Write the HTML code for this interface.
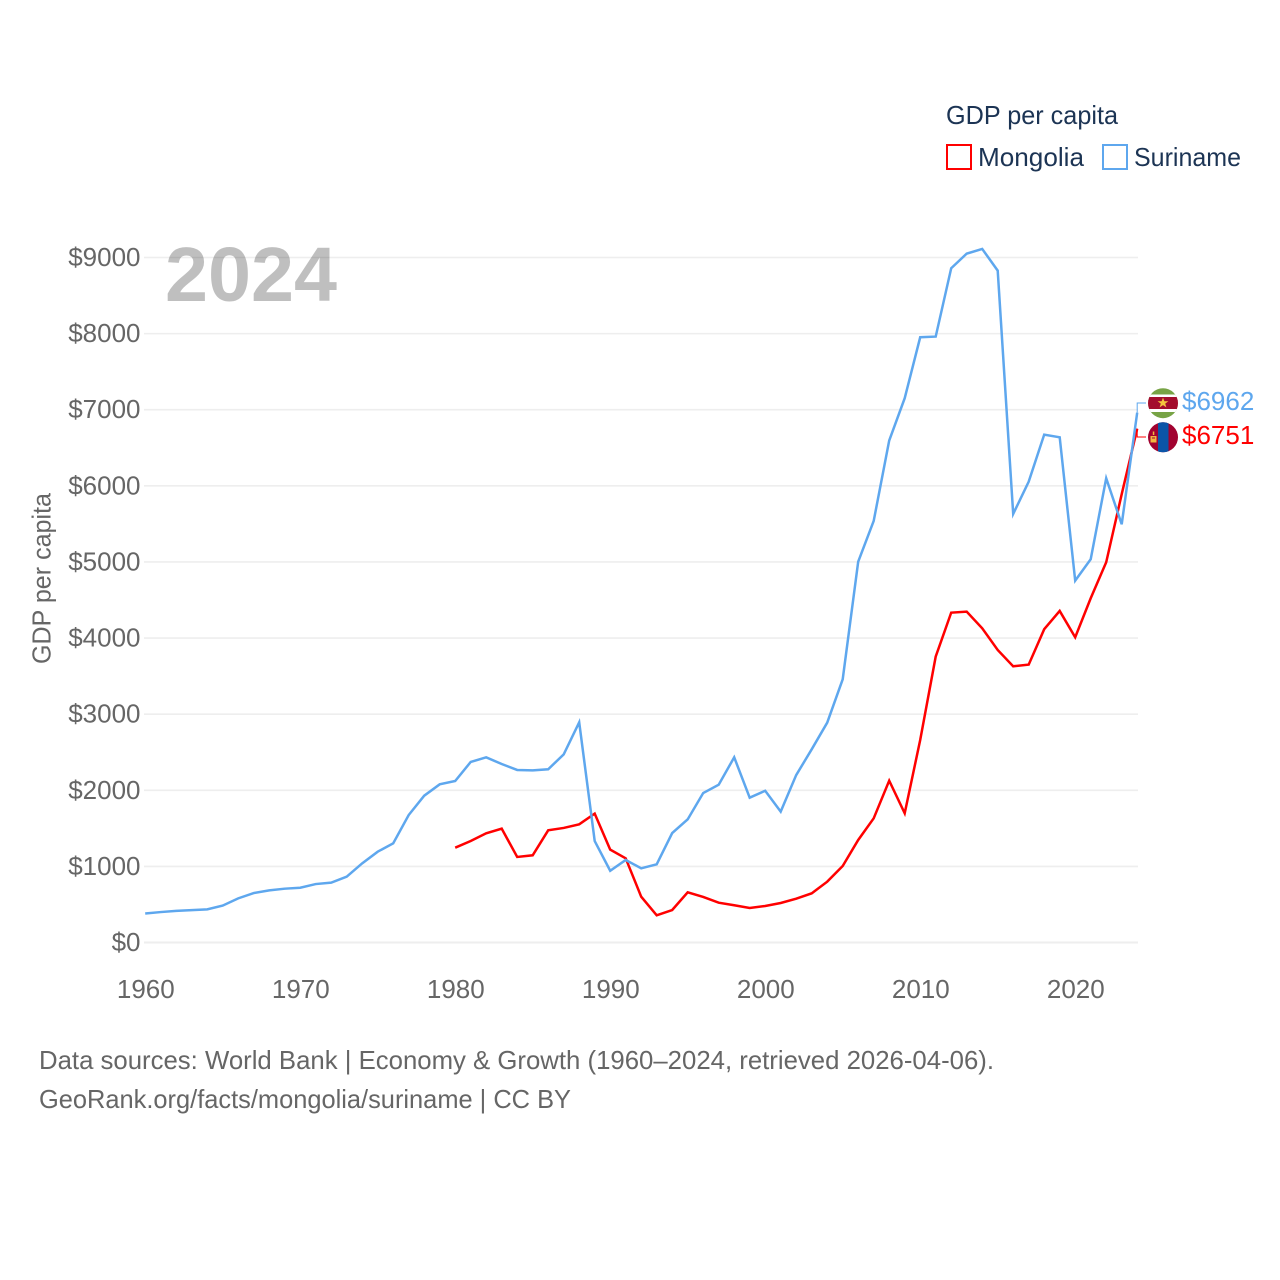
<!DOCTYPE html>
<html lang="en">
<head>
<meta charset="utf-8">
<title>GDP per capita: Mongolia and Suriname</title>
<style>
html,body{margin:0;padding:0;background:#fff;}
svg{display:block;}
text{font-family:"Liberation Sans",sans-serif;}
.tick{font-size:26px;fill:#666;}
.foot{font-size:26px;fill:#666;}
.leg{font-size:26px;fill:#1c3454;}
</style>
</head>
<body>
<svg id="chart" xmlns="http://www.w3.org/2000/svg" width="1280" height="1280" viewBox="0 0 1280 1280">
  <rect x="0" y="0" width="1280" height="1280" fill="#fff"/>
  <g id="grid"></g>
  <text x="165" y="301" font-size="77" font-weight="700" fill="#000" fill-opacity="0.25" textLength="172" lengthAdjust="spacingAndGlyphs">2024</text>
  <g id="yticks"></g>
  <g id="xticks"></g>
  <text class="foot" transform="translate(50.5,664) rotate(-90)" textLength="171" lengthAdjust="spacingAndGlyphs">GDP per capita</text>
  <g id="series"></g>

  <g>
    <text class="leg" x="946" y="124" textLength="172" lengthAdjust="spacingAndGlyphs">GDP per capita</text>
    <g>
      <rect x="947" y="145" width="24" height="24" fill="none" stroke="#ff0000" stroke-width="2"/>
      <text class="leg" x="978" y="166" textLength="106" lengthAdjust="spacingAndGlyphs">Mongolia</text>
    </g>
    <g>
      <rect x="1103" y="145" width="24" height="24" fill="none" stroke="#5ea7ee" stroke-width="2"/>
      <text class="leg" x="1134" y="166" textLength="107" lengthAdjust="spacingAndGlyphs">Suriname</text>
    </g>
  </g>

  <defs>
    <clipPath id="clip-sr"><circle cx="1163" cy="403.2" r="15"/></clipPath>
    <clipPath id="clip-mn"><circle cx="1163" cy="437.3" r="15"/></clipPath>
  </defs>
  <g id="end-connectors"></g>
  <g clip-path="url(#clip-sr)">
    <rect x="1147" y="388" width="32" height="31" fill="#77a345"/>
    <rect x="1147" y="394.5" width="32" height="17.5" fill="#fff"/>
    <rect x="1147" y="397" width="32" height="12" fill="#a30d2d"/>
    <polygon fill="#f4c63d" points="1163,397.6 1164.4,401.2 1168.4,401.2 1165.2,403.6 1166.4,407.4 1163,405.1 1159.6,407.4 1160.8,403.6 1157.6,401.2 1161.6,401.2"/>
  </g>
  <g clip-path="url(#clip-mn)">
    <rect x="1147" y="422" width="32" height="31" fill="#a10230"/>
    <rect x="1158" y="422" width="10.5" height="31" fill="#0b55a8"/>
    <rect x="1150.5" y="436" width="6" height="6.5" fill="#f0b840"/>
    <rect x="1152" y="437.5" width="3" height="1" fill="#a10230"/>
    <rect x="1152.8" y="431.5" width="1.5" height="3.5" fill="#f0b840"/>
  </g>
  <text id="label-suriname" font-size="26" fill="#5ea7ee" x="1182" y="410"></text>
  <text id="label-mongolia" font-size="26" fill="#ff0000" x="1182" y="444"></text>

  <text class="foot" x="39" y="1069" textLength="955" lengthAdjust="spacingAndGlyphs">Data sources: World Bank | Economy &amp; Growth (1960–2024, retrieved 2026-04-06).</text>
  <text class="foot" x="39" y="1108" textLength="532" lengthAdjust="spacingAndGlyphs">GeoRank.org/facts/mongolia/suriname | CC BY</text>
</svg>
<script>
const yTickValues = [0, 1000, 2000, 3000, 4000, 5000, 6000, 7000, 8000, 9000];
const xTickYears = [1960, 1970, 1980, 1990, 2000, 2010, 2020];
const surinameStartYear = 1960;
const mongoliaStartYear = 1980;
const surinameValues = [381, 400, 415, 425, 435, 485, 580, 650, 685, 707, 720, 768, 786, 865, 1040, 1193, 1303, 1675, 1929, 2078, 2122, 2372, 2433, 2345, 2267, 2262, 2276, 2472, 2893, 1333, 943, 1084, 975, 1027, 1438, 1618, 1964, 2073, 2433, 1903, 1994, 1719, 2200, 2538, 2888, 3458, 5004, 5539, 6595, 7151, 7952, 7961, 8859, 9051, 9113, 8828, 5631, 6055, 6673, 6638, 4754, 5035, 6100, 5495, 6962];
const mongoliaValues = [1246, 1333, 1435, 1496, 1124, 1146, 1474, 1505, 1553, 1693, 1220, 1106, 602, 357, 427, 660, 598, 523, 489, 453, 480, 519, 576, 646, 799, 1005, 1347, 1632, 2126, 1698, 2661, 3756, 4334, 4347, 4129, 3844, 3629, 3651, 4116, 4356, 4010, 4523, 4996, 5890, 6751];

const NS = 'http://www.w3.org/2000/svg';
function xScale(year) { return 145.2 + (year - 1960) * 15.5; }
function yScale(value) { return 942.5 - value * 0.07611; }
function make(tag, parent, attrs) {
  const el = document.createElementNS(NS, tag);
  for (const k in attrs) el.setAttribute(k, attrs[k]);
  parent.appendChild(el);
  return el;
}

const grid = document.getElementById('grid');
const yticks = document.getElementById('yticks');
yTickValues.forEach(function (v) {
  const line = make('line', grid, { x1: 144, x2: 1138, y1: yScale(v), y2: yScale(v), stroke: '#eeeeee', 'stroke-width': v === 0 ? 2 : 1.6 });
  
  
  const t = make('text', yticks, { x: 140.5, y: yScale(v) + 8.5, 'text-anchor': 'end', class: 'tick' });
  t.textContent = '$' + v;
  
  
});

const xticks = document.getElementById('xticks');
xTickYears.forEach(function (yr) {
  const t = make('text', xticks, { x: xScale(yr) + 0.6, y: 998, 'text-anchor': 'middle', class: 'tick' });
  t.textContent = String(yr);
  
  
});

function pointsFor(values, startYear) {
  return values.map(function (v, i) { return xScale(startYear + i).toFixed(2) + ',' + yScale(v).toFixed(2); }).join(' ');
}
const series = document.getElementById('series');
const mongoliaLine = make('polyline', series, { points: pointsFor(mongoliaValues, mongoliaStartYear), fill: 'none', stroke: '#ff0000', 'stroke-width': 2.5 });


const surinameLine = make('polyline', series, { points: pointsFor(surinameValues, surinameStartYear), fill: 'none', stroke: '#5ea7ee', 'stroke-width': 2.5 });



const connectors = document.getElementById('end-connectors');
const endX = xScale(2024);
const lastSuriname = surinameValues[surinameValues.length - 1];
const lastMongolia = mongoliaValues[mongoliaValues.length - 1];
const connectorSuriname = make('polyline', connectors, { points: endX + ',' + yScale(lastSuriname) + ' ' + endX + ',403 1146,403', fill: 'none', stroke: '#5ea7ee', 'stroke-width': 1 });


const connectorMongolia = make('polyline', connectors, { points: endX + ',' + yScale(lastMongolia) + ' ' + endX + ',437 1146,437', fill: 'none', stroke: '#ff0000', 'stroke-width': 1 });



document.getElementById('label-suriname').textContent = '$' + lastSuriname;
document.getElementById('label-mongolia').textContent = '$' + lastMongolia;
</script>
</body>
</html>
